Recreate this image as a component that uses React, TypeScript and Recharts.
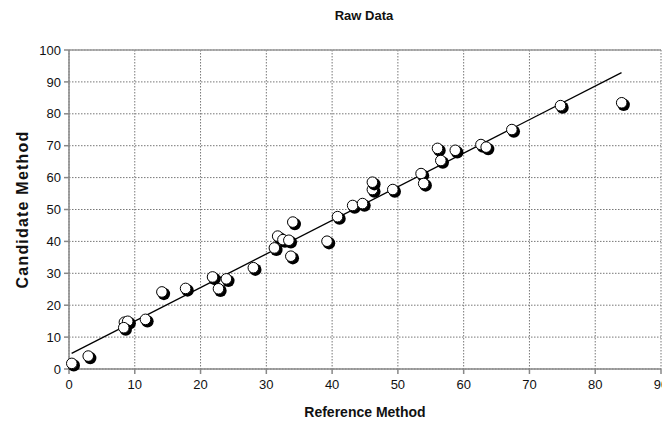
import { ScatterChart, Scatter, XAxis, YAxis, CartesianGrid, ReferenceLine } from 'recharts'

// reference method (x) vs candidate method (y)
const refValues = [
  0.5, 3.0, 8.5, 9.0, 8.4, 11.7, 14.2, 17.8, 21.9, 24.0, 22.8, 28.1, 31.3, 31.8, 32.6, 33.5, 33.8, 34.1,
  39.3, 40.9, 43.2, 44.7, 46.2, 46.2, 49.3, 53.6, 54.0, 56.1, 56.6, 58.8, 62.7, 63.5, 67.4, 74.8, 84.1,
]
const candValues = [
  1.6, 3.9, 14.5, 14.8, 12.8, 15.4, 24.0, 25.1, 28.7, 28.1, 25.0, 31.6, 37.8, 41.5, 40.4, 40.2, 35.2, 45.9,
  39.9, 47.6, 51.1, 51.7, 56.1, 58.4, 56.1, 61.1, 58.0, 69.0, 65.2, 68.4, 70.2, 69.4, 74.9, 82.4, 83.3,
]

// end points of the regression line
const fitX = [0.4, 84.0]
const fitY = [4.9, 92.9]

const xTicks = [0, 10, 20, 30, 40, 50, 60, 70, 80, 90]
const yTicks = [0, 10, 20, 30, 40, 50, 60, 70, 80, 90, 100]

const points = refValues.map((x, i) => ({ x, y: candValues[i] }))
const fit = fitX.map((x, i) => ({ x, y: fitY[i] }))

const font = '"Liberation Sans", Arial, sans-serif'

const Bead = (props: any) => {
  const { cx, cy } = props
  if (cx == null || cy == null) return <g />
  return (
    <g>
      <circle cx={cx + 1.5} cy={cy + 1.5} r={6.2} fill="#000" />
      <circle cx={cx - 0.5} cy={cy - 0.5} r={5.3} fill="#fff" stroke="#000" strokeWidth={1} />
    </g>
  )
}

export default function App() {
  return (
    <div
      style={{
        position: 'absolute',
        left: 0,
        top: 0,
        width: 662,
        height: 425,
        overflow: 'hidden',
        background: '#fff',
        fontFamily: font,
      }}
    >
      <div
        style={{
          position: 'absolute',
          top: 8,
          left: 264,
          width: 200,
          textAlign: 'center',
          fontSize: 13,
          fontWeight: 'bold',
          color: '#111',
        }}
      >
        Raw Data
      </div>
      <ScatterChart width={700} height={425} margin={{ top: 50, right: 39, bottom: 0, left: 0 }}>
        <CartesianGrid stroke="#777" strokeDasharray="1.5 1.5" />
        <ReferenceLine y={100} stroke="#999" strokeWidth={1.5} />
        <XAxis
          type="number"
          dataKey="x"
          domain={[0, 90]}
          ticks={xTicks}
          height={56}
          tickSize={5}
          tickMargin={6}
          stroke="#888"
          strokeWidth={1.5}
          tick={{ fontSize: 13, fill: '#111', fontFamily: font }}
          label={{
            value: 'Reference Method',
            position: 'insideBottom',
            offset: 8,
            style: { fontSize: 14, fontWeight: 'bold', fill: '#111', fontFamily: font },
          }}
        />
        <YAxis
          type="number"
          dataKey="y"
          domain={[0, 100]}
          ticks={yTicks}
          width={69}
          tickSize={5}
          tickMargin={3}
          stroke="#888"
          strokeWidth={1.5}
          tick={{ fontSize: 13, fill: '#111', fontFamily: font }}
          label={{
            value: 'Candidate Method',
            angle: -90,
            position: 'insideLeft',
            offset: 22,
            style: {
              fontSize: 16,
              fontWeight: 'bold',
              fill: '#111',
              fontFamily: font,
              textAnchor: 'middle',
              letterSpacing: 1.2,
            },
          }}
        />
        <Scatter
          data={fit}
          line={{ stroke: '#000', strokeWidth: 1.3 }}
          shape={() => <g />}
          isAnimationActive={false}
        />
        <Scatter data={points} shape={Bead} isAnimationActive={false} />
      </ScatterChart>
    </div>
  )
}
